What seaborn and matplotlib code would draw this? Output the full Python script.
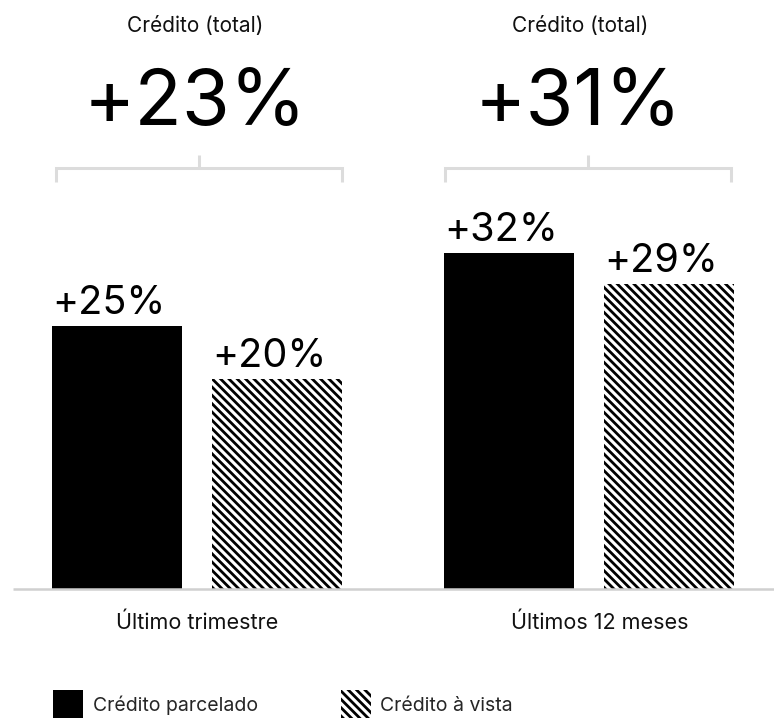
import matplotlib
matplotlib.use("Agg")
import matplotlib.pyplot as plt
import matplotlib.transforms as mtransforms
import pandas as pd
import seaborn as sns

# --- data -------------------------------------------------------------
periodos = ["Último trimestre", "Últimos 12 meses"]
series = ["Crédito parcelado", "Crédito à vista"]
parcelado = [25, 32]
a_vista = [20, 29]
total_label = "Crédito (total)"
totais = [23, 31]

df = pd.DataFrame({
    "periodo": periodos * 2,
    "tipo": [series[0]] * 2 + [series[1]] * 2,
    "valor": parcelado + a_vista,
})

# --- style ------------------------------------------------------------
sns.set_style("white")
plt.rcParams["font.family"] = ["Inter", "DejaVu Sans"]
plt.rcParams["hatch.linewidth"] = 2.0

W, H = 774, 718
fig = plt.figure(figsize=(W / 100, H / 100), dpi=100)
base_px = 589
ax = fig.add_axes([0, (H - base_px) / H, 1, base_px / H])

# figure pixel coordinates, origin at the top-left corner
px = mtransforms.Affine2D().scale(1 / W, -1 / H).translate(0, 1) + fig.transFigure

sns.barplot(
    data=df, x="periodo", y="valor", hue="tipo", order=periodos,
    hue_order=series, palette={series[0]: "black", series[1]: "white"},
    width=0.8168, gap=0.19, saturation=1, ax=ax, legend=False,
)

# hatch the "à vista" bars
for bar in ax.containers[1]:
    bar.set_hatch("\\\\\\\\")
    bar.set_edgecolor("black")
    bar.set_linewidth(0)
for bar in ax.containers[0]:
    bar.set_linewidth(0)

ax.set_xlim(-197.25 / 391.75, (W - 197.25) / 391.75)
ax.set_ylim(0, base_px / 10.514)
ax.set_axis_off()

# baseline
ax.plot([13, W], [base_px, base_px], color="#d0d0d0", lw=1.8,
        transform=px, clip_on=False, zorder=5, solid_capstyle="butt")

# value labels, left-aligned on each bar
for cont in ax.containers:
    for bar in cont:
        v = bar.get_height()
        ax.annotate(f"+{v:.0f}%", xy=(bar.get_x(), v), xytext=(0, 8.6),
                    textcoords="offset points", ha="left", va="baseline",
                    fontsize=28.5, color="black")

# group headers, totals and brackets
head_x = [195, 580]
total_x = [195, 578.5]
brackets = [(55.7, 199, 341.7), (445, 588, 731)]
for hx, tx, tot, (l, c, r) in zip(head_x, total_x, totais, brackets):
    fig.text(hx, 32, total_label, transform=px, ha="center", va="baseline",
             fontsize=15, color="#111111")
    fig.text(tx, 125, f"+{tot}%", transform=px, ha="center", va="baseline",
             fontsize=56, color="black")
    kw = dict(color="#dcdcdc", lw=2.2, transform=px, solid_capstyle="butt",
              solid_joinstyle="miter")
    fig.add_artist(plt.Line2D([l, l, r, r], [182, 168, 168, 182], **kw))
    fig.add_artist(plt.Line2D([c, c], [168, 155], **kw))

# period labels
label_x = [197.5, 599.5]
for lx, name in zip(label_x, periodos):
    fig.text(lx, 629, name, transform=px, ha="center", va="baseline",
             fontsize=15.5, color="#111111")

# legend
fig.legend(handles=[ax.containers[0][0], ax.containers[1][0]], labels=series,
           loc="upper left", bbox_to_anchor=(53, 690), bbox_transform=px,
           ncol=2, frameon=False, fontsize=14, borderpad=0,
           handlelength=1.55, handleheight=2.0, handletextpad=0.5,
           columnspacing=4.25, borderaxespad=0)

fig.savefig("out.png", dpi=100)
